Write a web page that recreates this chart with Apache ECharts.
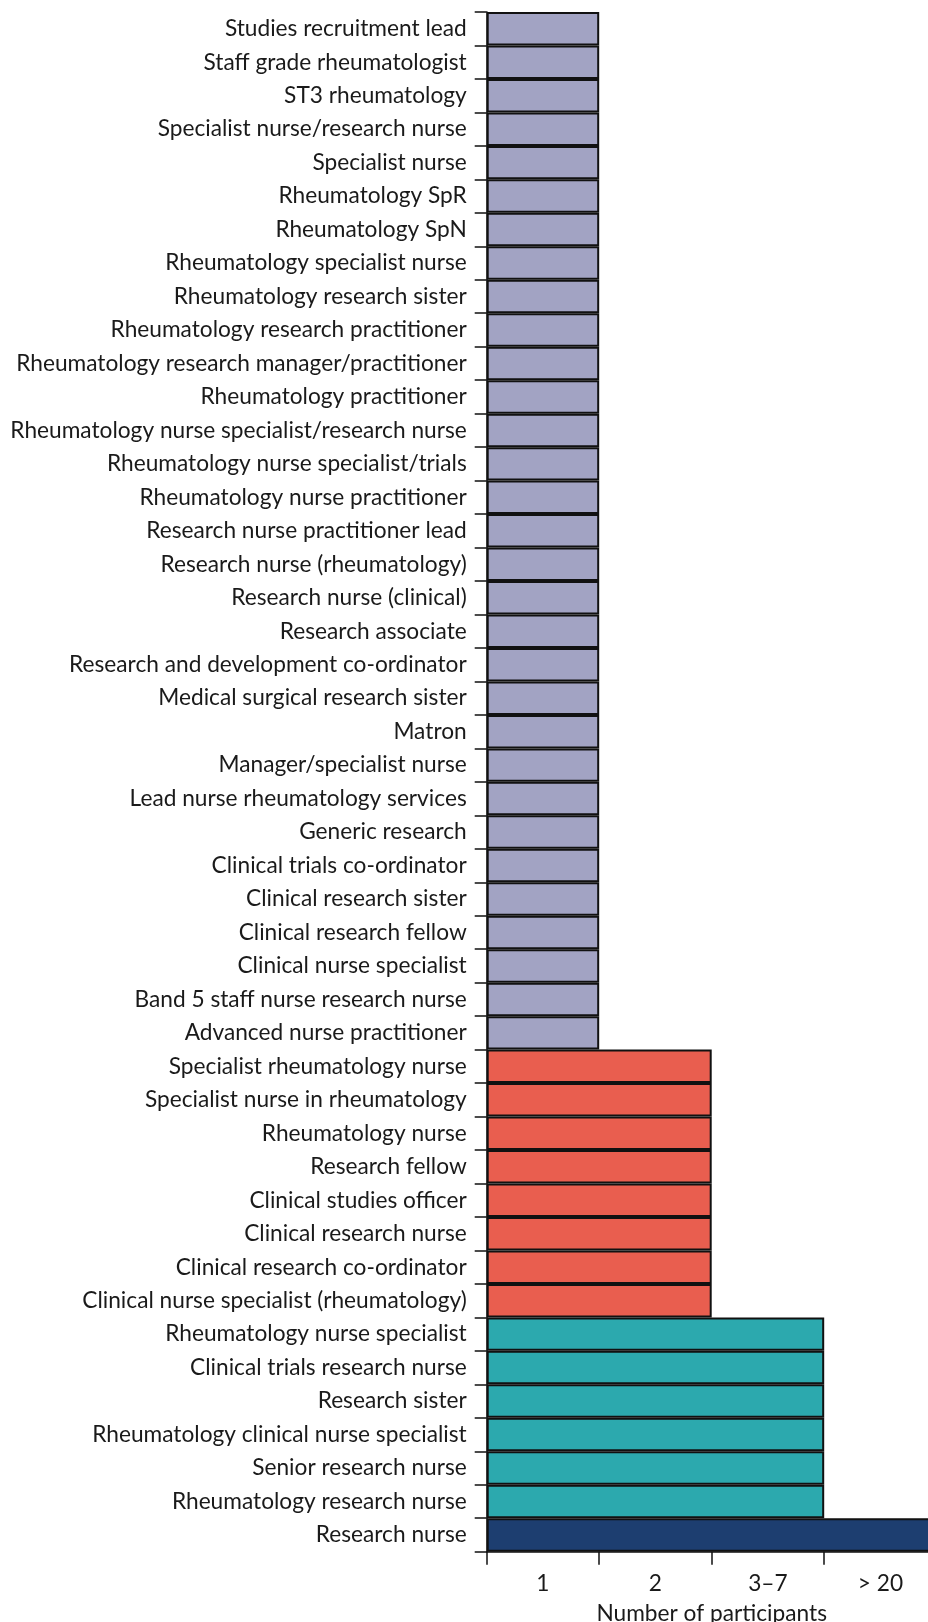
<!DOCTYPE html>
<html>
<head>
<meta charset="utf-8">
<script src="https://cdn.jsdelivr.net/npm/echarts@6/dist/echarts.min.js"></script>
<style>
html,body{margin:0;padding:0;background:#fff;}
#chart{width:928px;height:1622px;}
</style>
</head>
<body>
<div id="chart"></div>
<script>
// Job titles (top to bottom)
const categories = [
  "Studies recruitment lead",
  "Staff grade rheumatologist",
  "ST3 rheumatology",
  "Specialist nurse/research nurse",
  "Specialist nurse",
  "Rheumatology SpR",
  "Rheumatology SpN",
  "Rheumatology specialist nurse",
  "Rheumatology research sister",
  "Rheumatology research practitioner",
  "Rheumatology research manager/practitioner",
  "Rheumatology practitioner",
  "Rheumatology nurse specialist/research nurse",
  "Rheumatology nurse specialist/trials",
  "Rheumatology nurse practitioner",
  "Research nurse practitioner lead",
  "Research nurse (rheumatology)",
  "Research nurse (clinical)",
  "Research associate",
  "Research and development co-ordinator",
  "Medical surgical research sister",
  "Matron",
  "Manager/specialist nurse",
  "Lead nurse rheumatology services",
  "Generic research",
  "Clinical trials co-ordinator",
  "Clinical research sister",
  "Clinical research fellow",
  "Clinical nurse specialist",
  "Band 5 staff nurse research nurse",
  "Advanced nurse practitioner",
  "Specialist rheumatology nurse",
  "Specialist nurse in rheumatology",
  "Rheumatology nurse",
  "Research fellow",
  "Clinical studies officer",
  "Clinical research nurse",
  "Clinical research co-ordinator",
  "Clinical nurse specialist (rheumatology)",
  "Rheumatology nurse specialist",
  "Clinical trials research nurse",
  "Research sister",
  "Rheumatology clinical nurse specialist",
  "Senior research nurse",
  "Rheumatology research nurse",
  "Research nurse"
];
// Participant-count band (ordinal position on x axis: 1 = "1", 2 = "2", 3 = "3–7", 4 = "> 20")
const bandLevels = [
  1,1,1,1,1,1,1,1,1,1,1,1,1,1,1,1,1,1,1,1,1,1,1,1,1,1,1,1,1,1,1,
  2,2,2,2,2,2,2,2,
  3,3,3,3,3,3,
  4
];
// x axis tick labels
const tickLabels = ["1", "2", "3\u20137", "> 20"];
// colours per band
const bandColors = ["#a2a3c3", "#e95e4f", "#2ca9ae", "#1d3e70"];

const FONT = "Lato";
const TXT = "#1a1a1a";
const FS = 22.7;

const chart = echarts.init(document.getElementById('chart'), null, {renderer: 'canvas'});
chart.setOption({
  animation: false,
  backgroundColor: '#fff',
  grid: {left: 486.7, top: 12, width: 450, height: 1539.7, containLabel: false, outerBoundsMode: 'none'},
  xAxis: [
    {
      type: 'value', min: 0, max: tickLabels.length, interval: 1, show: false
    },
    {
      type: 'category',
      data: tickLabels,
      position: 'bottom',
      boundaryGap: true,
      axisLine: {show: true, lineStyle: {color: '#111', width: 1.5}},
      axisTick: {show: true, length: 13, lineStyle: {color: '#111', width: 1.5}},
      axisLabel: {color: TXT, fontFamily: FONT, fontSize: FS, margin: 20},
      splitLine: {show: false},
      name: 'Number of participants',
      nameLocation: 'middle',
      nameGap: 50,
      nameTextStyle: {color: TXT, fontFamily: FONT, fontSize: FS}
    }
  ],
  yAxis: {
    type: 'category',
    data: categories,
    inverse: true,
    boundaryGap: true,
    axisLine: {show: true, lineStyle: {color: '#111', width: 1.5}},
    axisTick: {show: true, length: 12, lineStyle: {color: '#111', width: 1.5}},
    axisLabel: {color: TXT, fontFamily: FONT, fontSize: FS, margin: 20, interval: 0, padding: [0, 0, 5, 0]},
    splitLine: {show: false}
  },
  series: [{
    type: 'bar',
    xAxisIndex: 0,
    barWidth: '100%',
    barCategoryGap: '0%',
    data: bandLevels.map(v => ({
      value: v,
      itemStyle: {color: bandColors[v - 1]}
    })),
    itemStyle: {borderColor: '#111', borderWidth: 2},
    emphasis: {disabled: true}
  }]
});
</script>
</body>
</html>
